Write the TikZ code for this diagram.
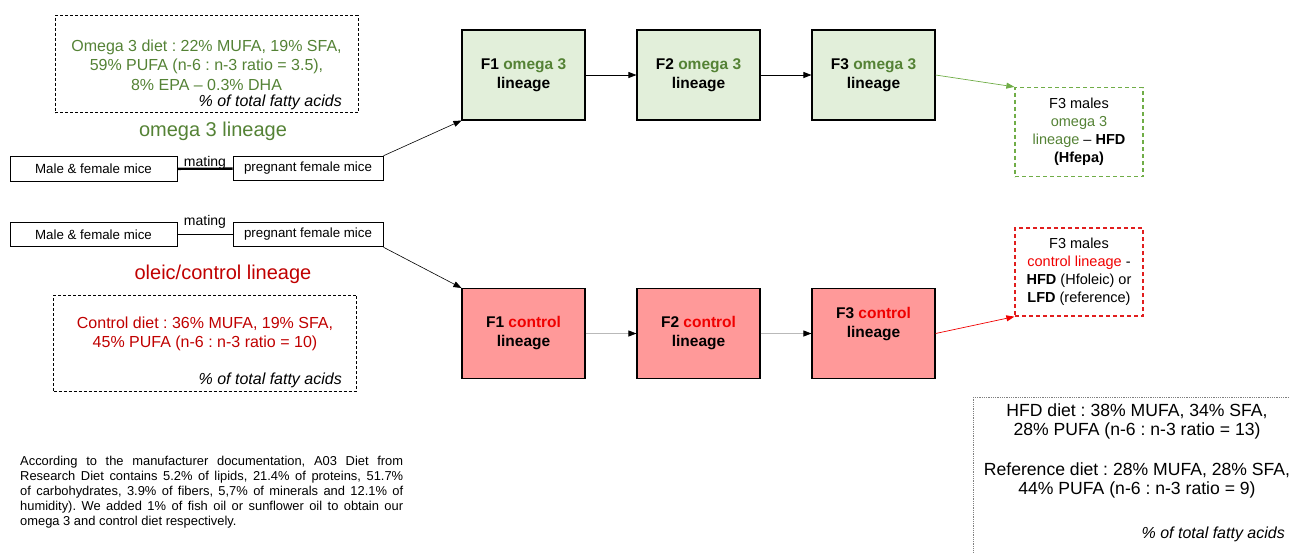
\documentclass[tikz,border=0pt]{standalone}
\usepackage{fontspec}
\setmainfont{Liberation Sans}
\usetikzlibrary{arrows.meta}
\definecolor{omegagreen}{RGB}{84,130,53}
\definecolor{omegafill}{RGB}{226,239,218}
\definecolor{omegadash}{RGB}{112,173,71}
\definecolor{ctrldark}{RGB}{192,0,0}
\definecolor{ctrlred}{RGB}{240,0,0}
\definecolor{ctrlfill}{RGB}{255,153,153}
\definecolor{ctrldash}{RGB}{225,30,30}
\frenchspacing

\begin{document}
\begin{tikzpicture}[x=1pt, y=-1pt,
  micebox/.style={draw, line width=1pt, inner sep=0pt, minimum height=24.5pt,
    font=\fontsize{13.3}{15}\selectfont},
  matelabel/.style={anchor=base, inner sep=0pt, font=\fontsize{14}{16}\selectfont},
  genbox/.style={draw, line width=1.1pt, minimum width=123pt, minimum height=90pt,
    align=center, font=\fontsize{15.5}{19}\selectfont\bfseries},
  omegabox/.style={genbox, fill=omegafill},
  ctrlbox/.style={genbox, fill=ctrlfill},
  gentext/.style={align=center, inner sep=0pt, font=\fontsize{15.5}{19}\selectfont\bfseries},
  dietbox/.style={draw, dash pattern=on 3pt off 2pt, line width=1pt,
    minimum width=303pt, minimum height=97pt},
  diettext/.style={align=center, inner sep=0pt, font=\fontsize{16}{19.5}\selectfont},
  pctnote/.style={anchor=base east, inner sep=0pt, font=\fontsize{16}{19.5}\selectfont\itshape},
  lineagetitle/.style={inner sep=0pt, font=\fontsize{20}{24}\selectfont},
  malebox/.style={draw, dash pattern=on 4pt off 3pt, line width=1.3pt,
    minimum width=128pt, minimum height=89pt, align=center,
    font=\fontsize{14.5}{18}\selectfont},
  genarrow/.style={-{Triangle[length=8pt,width=6pt]}, line width=0.8pt},
]
\useasboundingbox (0,0) rectangle (1290,552);

% omega 3 lineage
\node[dietbox] (omegadiet) at (206.5,64) {};
\node[diettext, text=omegagreen] (omegatext) at (206.5,65)
  {Omega 3 diet : 22\% MUFA, 19\% SFA,\\59\% PUFA (n-6 : n-3 ratio = 3.5),\\8\% EPA -- 0.3\% DHA};
\node[pctnote] (omegapct) at (342,106.5) {\% of total fatty acids};
\node[lineagetitle, text=omegagreen] (omegatitle) at (213,131) {omega 3 lineage};

\node[micebox, minimum width=167pt] (omegamice) at (93.5,169) {Male \& female mice};
\node[micebox, minimum width=150pt] (omegapreg) at (308,168.5) {pregnant female mice};
\draw[line width=2.4pt] (omegamice) -- (omegapreg);
\node[matelabel] (omegamate) at (205,166) {mating};

\node[omegabox] (omegaF1) at (523.5,75) {F1 \textcolor{omegagreen}{omega 3}\\lineage};
\node[omegabox] (omegaF2) at (698.5,75) {F2 \textcolor{omegagreen}{omega 3}\\lineage};
\node[omegabox] (omegaF3) at (873.5,75) {F3 \textcolor{omegagreen}{omega 3}\\lineage};
\draw[genarrow] (omegaF1) -- (omegaF2);
\draw[genarrow] (omegaF2) -- (omegaF3);
\draw[genarrow, line width=0.6pt] (omegapreg.north east) -- (omegaF1.south west);

\node[malebox, draw=omegadash] (omegamales) at (1079,132)
  {F3 males\\\textcolor{omegagreen}{omega 3}\\\textcolor{omegagreen}{lineage} -- \textbf{HFD}\\\textbf{(Hfepa)}};
\draw[genarrow, omegadash, line width=0.7pt] (omegaF3.east) -- (omegamales.north west);

% oleic/control lineage
\node[micebox, minimum width=167pt] (ctrlmice) at (93.5,234.5) {Male \& female mice};
\node[micebox, minimum width=150pt] (ctrlpreg) at (308,234.5) {pregnant female mice};
\draw[line width=1.2pt] (ctrlmice) -- (ctrlpreg);
\node[matelabel] (ctrlmate) at (205,225) {mating};

\node[lineagetitle, text=ctrldark] (ctrltitle) at (223,274) {oleic/control lineage};
\node[dietbox, minimum height=96pt] (ctrldiet) at (205,343) {};
\node[diettext, text=ctrldark] (ctrltext) at (205,334)
  {Control diet : 36\% MUFA, 19\% SFA,\\45\% PUFA (n-6 : n-3 ratio = 10)};
\node[pctnote] (ctrlpct) at (342,384.5) {\% of total fatty acids};

\node[ctrlbox] (ctrlF1) at (523.5,333.5) {F1 \textcolor{ctrlred}{control}\\lineage};
\node[ctrlbox] (ctrlF2) at (698.5,333.5) {F2 \textcolor{ctrlred}{control}\\lineage};
\node[ctrlbox] (ctrlF3) at (873.5,333.5) {};
\node[gentext] (ctrlF3text) at (873.5,324.5) {F3 \textcolor{ctrlred}{control}\\lineage};
\draw[genarrow, draw=gray!55, -{Triangle[length=8pt,width=6pt,color=black]}] (ctrlF1) -- (ctrlF2);
\draw[genarrow, draw=gray!55, -{Triangle[length=8pt,width=6pt,color=black]}] (ctrlF2) -- (ctrlF3);
\draw[genarrow, line width=0.6pt] (ctrlpreg.south east) -- (ctrlF1.north west);

\node[malebox, draw=ctrldash, minimum height=88pt] (ctrlmales) at (1079,272)
  {F3 males\\\textcolor{ctrlred}{control lineage} -\\\textbf{HFD} (Hfoleic) or\\\textbf{LFD} (reference)};
\draw[genarrow, ctrlred, line width=0.7pt] (ctrlF3.east) -- (ctrlmales.south west);

% high fat and reference diets
\node[draw=gray, densely dotted, line width=0.8pt, anchor=north west,
  minimum width=330pt, minimum height=165pt] (refbox) at (973,397) {};
\node[diettext, font=\fontsize{17.6}{19.5}\selectfont] (hfdtext) at (1137,421.5)
  {HFD diet : 38\% MUFA, 34\% SFA,\\28\% PUFA (n-6 : n-3 ratio = 13)};
\node[diettext, font=\fontsize{17.6}{19.5}\selectfont] (reftext) at (1137,480.5)
  {Reference diet : 28\% MUFA, 28\% SFA,\\44\% PUFA (n-6 : n-3 ratio = 9)};
\node[pctnote] (refpct) at (1285,538.5) {\% of total fatty acids};

% manufacturer note
\node[anchor=north west, inner sep=0pt, text width=383pt, align=justify,
  font=\fontsize{12.9}{15}\selectfont] (dietnote) at (20,456)
  {According to the manufacturer documentation, A03 Diet from\linebreak
   Research Diet contains 5.2\% of lipids, 21.4\% of proteins, 51.7\%\linebreak
   of carbohydrates, 3.9\% of fibers, 5,7\% of minerals and 12.1\% of\linebreak
   humidity). We added 1\% of fish oil or sunflower oil to obtain our\linebreak
   omega 3 and control diet respectively.};
\end{tikzpicture}
\end{document}
